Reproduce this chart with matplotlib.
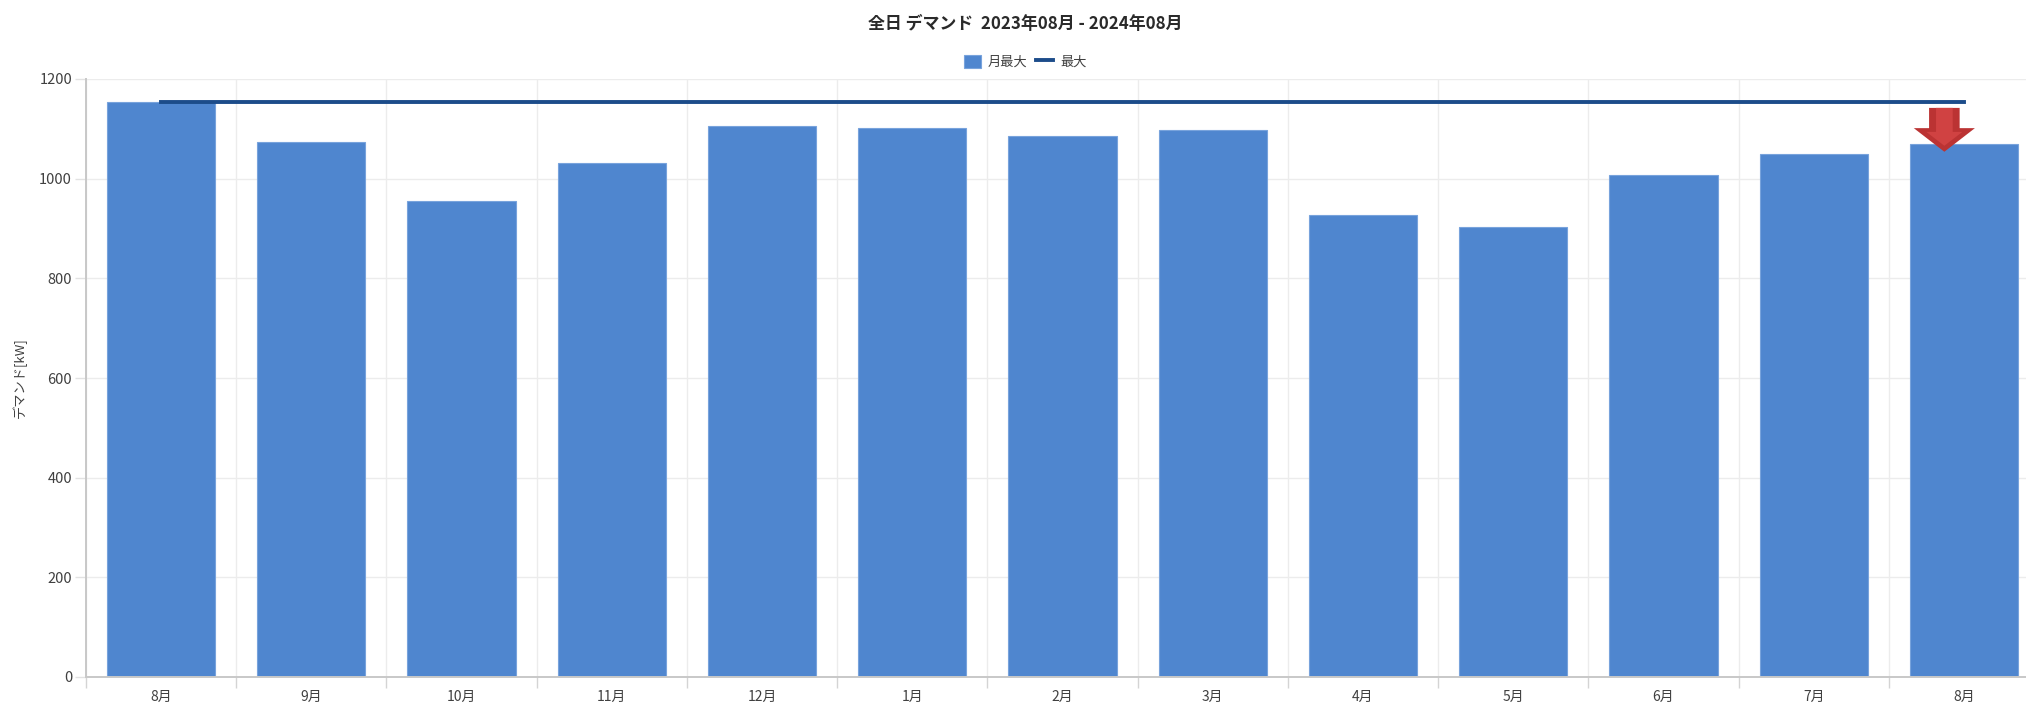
"""Monthly peak demand bars with overall max line"""

import numpy as np
import matplotlib
matplotlib.use('Agg')
import matplotlib.pyplot as plt

plt.rcParams['font.family'] = ['Noto Sans CJK JP', 'DejaVu Sans']

months = ['8月', '9月', '10月', '11月', '12月', '1月', '2月', '3月', '4月', '5月', '6月', '7月', '8月']
monthly_max = [1153, 1074, 956, 1031, 1105, 1102, 1085, 1098, 928, 904, 1008, 1050, 1070]
overall_max = [1154] * 13
yticks = [0, 200, 400, 600, 800, 1000, 1200]

W, H = 2026, 706
TEXT = '#404040'

fig = plt.figure(figsize=(W / 100, H / 100), dpi=100)
# axes runs past the right edge, the last category is cut off in the original
ax = fig.add_axes([86 / W, 1 - 677 / H, 1953 / W, 598 / H])

x = np.arange(len(months))
bars = ax.bar(x, monthly_max, width=0.72, color='#4f86cf', edgecolor='#78a3dc',
              linewidth=0.8, zorder=2, label='月最大')
line, = ax.plot(x, overall_max, color='#1c4c8a', linewidth=2.8, zorder=3, label='最大')

ax.set_xlim(-0.5, len(months) - 0.5)
ax.set_ylim(0, 1200)
ax.set_yticks(yticks)
ax.set_xticks(np.arange(len(months) + 1) - 0.5)
ax.set_xticklabels([])
ax.set_xticks(x, months, minor=True)

ax.grid(True, color='#ececec', linewidth=1.0, zorder=0)
ax.set_axisbelow(True)
for side in ['top', 'right']:
    ax.spines[side].set_visible(False)
for side in ['left', 'bottom']:
    ax.spines[side].set_color('#c8c8c8')
    ax.spines[side].set_linewidth(1.4)

ax.tick_params(axis='y', length=8, width=1, color='#e2e2e2', labelsize=10.5,
               labelcolor=TEXT, pad=2)
ax.tick_params(axis='x', which='major', length=8, width=1, color='#d4d4d4')
ax.tick_params(axis='x', which='minor', length=0, labelsize=10, labelcolor=TEXT, pad=9)

fig.text(20 / W, 1 - 378 / H, 'デマンド[kW]', rotation=90, ha='center', va='center',
         fontsize=9.5, color=TEXT)
fig.text(1025 / W, 1 - 24 / H, '全日 デマンド  2023年08月 - 2024年08月', ha='center', va='center',
         fontsize=12.2, fontweight='bold', color='#2a2a2a')

ax.legend(handles=[bars, line], loc='center', bbox_to_anchor=(1025 / W, 1 - 62 / H),
          bbox_transform=fig.transFigure, ncol=2, frameon=False, fontsize=9.5,
          labelcolor=TEXT, handlelength=1.3, handleheight=1.1, handletextpad=0.5,
          columnspacing=0.7, borderpad=0)

# red down arrow on the latest month, layered for the shading
arrow_x = x[-1] - 0.13
tip = monthly_max[-1] - 16
top = monthly_max[-1] + 72
for color, w, hw, hl, dy in [('#bb3333', 22, 44, 17, 0),
                             ('#d04242', 12, 26, 10, 12)]:
    ax.annotate('', xy=(arrow_x, tip + dy), xytext=(arrow_x, top), zorder=5,
                arrowprops=dict(width=w, headwidth=hw, headlength=hl,
                                facecolor=color, edgecolor='none', shrinkA=0, shrinkB=0))

fig.savefig('out.png', dpi=100)
